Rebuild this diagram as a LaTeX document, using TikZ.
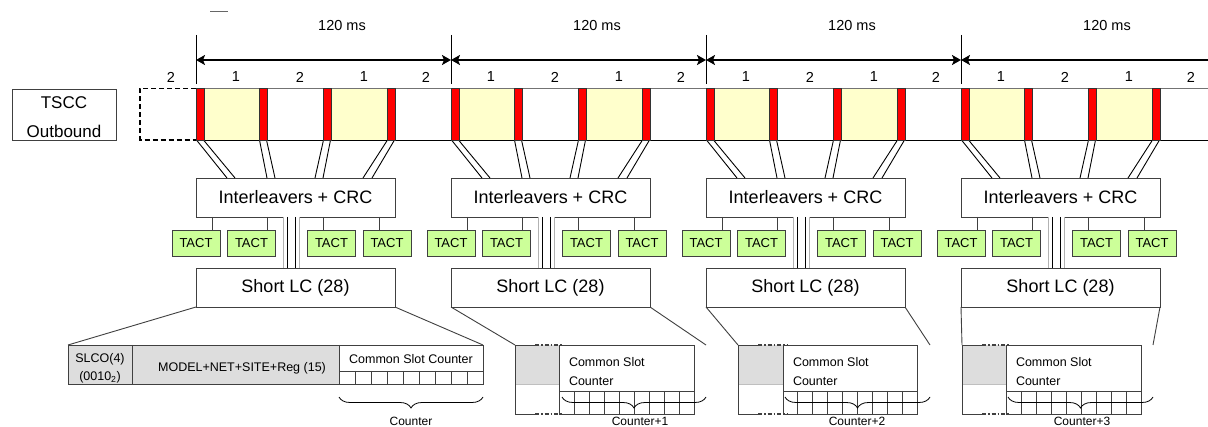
\documentclass[tikz,border=0pt]{standalone}
\usepackage{fontspec}
\setmainfont{Liberation Sans}
\usetikzlibrary{arrows.meta,decorations.pathreplacing,calc}
\definecolor{cellyellow}{HTML}{FFFFCC}
\definecolor{tactgreen}{HTML}{CCFF99}
\definecolor{fieldgray}{HTML}{DDDDDD}
\definecolor{barred}{HTML}{FF0000}
\definecolor{edge}{HTML}{404040}
\begin{document}
\begin{tikzpicture}[x=1pt,y=-1pt,
  every node/.style={inner sep=0pt, outer sep=0pt},
  bigbox/.style={draw=edge, fill=white, line width=0.9pt, minimum width=199pt, minimum height=39pt, font=\fontsize{18}{20}\selectfont},
  tactbox/.style={draw=edge, fill=tactgreen, line width=0.9pt, minimum width=48pt, minimum height=26pt, font=\fontsize{13}{14}\selectfont},
  redbar/.style={fill=barred, draw=black!80, line width=0.8pt},
  striplines/.style={draw=black, line width=0.9pt},
  tline/.style={draw=edge, line width=0.9pt},
  fld/.style={draw=edge, line width=0.9pt},
  fieldtext/.style={font=\fontsize{12.5}{14}\selectfont},
  cnttext/.style={font=\fontsize{12}{13}\selectfont},
  lbl/.style={font=\fontsize{14.5}{16}\selectfont},
  spanarrow/.style={line width=2pt},
  tipA/.tip={Stealth[length=9pt,width=10pt,inset=2pt]},
  bracedown/.style={decorate, decoration={brace, mirror, amplitude=11pt}, draw=black, line width=0.8pt},
]
\fill[white] (0,0) rectangle (1208,427);
\useasboundingbox (0,0) rectangle (1208,427);

% small top dash
\draw[black!60, line width=1pt] (210,12) -- (228,12);

% TSCC box
\node[draw=edge, line width=0.9pt, minimum width=104pt, minimum height=51pt] (tscc) at (64,114.5) {};
\node[font=\fontsize{17}{20}\selectfont] (tsccA) at (64,103) {TSCC};
\node[font=\fontsize{17}{20}\selectfont] (tsccB) at (64,131) {Outbound};

% dashed previous slot
\draw[line width=1.3pt, dash pattern=on 5pt off 3pt] (196,88.5) -- (140,88.5) -- (140,140) -- (196,140);
\node[lbl] (n0) at (171,77) {2};

% span arrows
\draw[spanarrow, tipA-tipA] (196,60) -- (451,60);
\draw[spanarrow, tipA-tipA] (451,60) -- (706,60);
\draw[spanarrow, tipA-tipA] (706,60) -- (961,60);
\draw[spanarrow, tipA-] (961,60) -- (1212,60);

\foreach \i in {0,1,2,3}{
  \pgfmathsetmacro\x{196+255*\i}
  % cells
  \fill[cellyellow] (\x+8,89) rectangle (\x+63,140);
  \fill[cellyellow] (\x+135,89) rectangle (\x+191,140);
  % tick
  \draw[line width=0.9pt] (\x,35) -- (\x,84);
  % labels
  \node[lbl] (ms\i) at (\x+146,26) {120 ms};
  \node[lbl] (na\i) at (\x+40,77) {1};
  \node[lbl] (nb\i) at (\x+104,77) {2};
  \node[lbl] (nc\i) at (\x+168,77) {1};
  \node[lbl] (nd\i) at (\x+230,77) {2};
  % boxes
  \node[bigbox] (il\i) at (\x+99.5,197.5) {Interleavers + CRC};
  \node[bigbox] (slc\i) at (\x+99.5,287.5) {Short LC (28)};
  \node[tactbox] (ta\i) at (\x,243) {TACT};
  \node[tactbox] (tb\i) at (\x+55.5,243) {TACT};
  \node[tactbox] (tc\i) at (\x+135.5,243) {TACT};
  \node[tactbox] (td\i) at (\x+191,243) {TACT};
  % TACT connectors
  \coordinate (ca\i) at ($(il\i.south west)+(16,0)$);
  \coordinate (cb\i) at ($(il\i.south west)+(71,0)$);
  \coordinate (cc\i) at ($(il\i.south west)+(127,0)$);
  \coordinate (cd\i) at ($(il\i.south west)+(183,0)$);
  \draw[tline] (ca\i) -- (ca\i |- ta\i.north);
  \draw[tline] (cb\i) -- (cb\i |- tb\i.north);
  \draw[tline] (cc\i) -- (cc\i |- tc\i.north);
  \draw[tline] (cd\i) -- (cd\i |- td\i.north);
  % strips from TSCC to interleavers
  \draw[striplines] (\x+0.5,140) -- ($(il\i.north west)+(31,0)$);
  \draw[striplines] (\x+7.5,140) -- ($(il\i.north west)+(39,0)$);
  \draw[striplines] (\x+63.5,140) -- ($(il\i.north west)+(71,0)$);
  \draw[striplines] (\x+70.5,140) -- ($(il\i.north west)+(79,0)$);
  \draw[striplines] (\x+127.5,140) -- ($(il\i.north west)+(119,0)$);
  \draw[striplines] (\x+134.5,140) -- ($(il\i.north west)+(127,0)$);
  \draw[striplines] (\x+191.5,140) -- ($(il\i.north west)+(167,0)$);
  \draw[striplines] (\x+198.5,140) -- ($(il\i.north west)+(176,0)$);
  % strip between interleavers and short LC
  \coordinate (ma\i) at ($(il\i.south west)+(87,0)$);
  \coordinate (mb\i) at ($(il\i.south west)+(91,0)$);
  \coordinate (mc\i) at ($(il\i.south west)+(99,0)$);
  \coordinate (md\i) at ($(il\i.south west)+(103,0)$);
  \fill[white] (ma\i) rectangle (md\i |- slc\i.north);
  \draw[black!30, line width=0.9pt] (ma\i) -- (ma\i |- slc\i.north);
  \draw[black!30, line width=0.9pt] (md\i) -- (md\i |- slc\i.north);
  \draw[black, line width=0.9pt] (mb\i) -- (mb\i |- slc\i.north);
  \draw[black, line width=0.9pt] (mc\i) -- (mc\i |- slc\i.north);
}

% TSCC row lines
\draw[black!55, line width=0.9pt] (196,88.5) -- (1208,88.5);
\draw[black, line width=0.9pt] (196,140) -- (1208,140);
\foreach \i in {0,1,2,3}{
  \pgfmathsetmacro\x{196+255*\i}
  \foreach \o in {0,63,127,191} \draw[redbar] (\x+\o,88.5) rectangle (\x+\o+8,140);
}

% field box 1
\fill[fieldgray] (68,345) rectangle (339,384);
\draw[fld] (68,345) rectangle (483,384);
\draw[fld] (132,345) -- (132,384);
\draw[fld] (339,345) -- (339,384);
\draw[fld] (339,371) -- (483,371);
\foreach \k in {1,...,8} \draw[fld] (339+16*\k,371) -- (339+16*\k,384);
\node[fieldtext] (slco) at (100,359) {SLCO(4)};
\node[fieldtext] (slcob) at (100,377) {(0010\textsubscript{2})};
\node[fieldtext] (model) at (242,368) {MODEL+NET+SITE+Reg (15)};
\node[fieldtext] (csc0) at (411,359) {Common Slot Counter};
\draw[fld] (slc0.south west) -- (68,345);
\draw[fld] (slc0.south east) -- (483,345);
\draw[bracedown] (339,397) -- (483,397);
\node[cnttext] (cnt0) at (411,421) {Counter};

% field boxes 2-4
\foreach \i/\L/\S/\R/\F/\B/\E/\C/\t in {1/515/559/694/706/562/706/640/Counter+1, 2/738/783/917/930/785/930/857/Counter+2, 3/962/1006/1141/1153/1008/1153/1082/Counter+3}{
  \fill[fieldgray] (\L,345) rectangle (\S,384);
  \draw[black!25, line width=0.8pt] (\L,384) -- (\S,384);
  \draw[fld] (\L+20,345) -- (\L,345) -- (\L,414) -- (\L+20,414);
  \draw[fld, line width=1.2pt, dash pattern=on 4pt off 2pt on 1.5pt off 2pt] (\L+20,345) -- (\S+4,345);
  \draw[fld, line width=1.2pt, dash pattern=on 4pt off 2pt on 1.5pt off 2pt] (\L+20,414) -- (\S+4,414);
  \draw[fld] (\S,345) rectangle (\R,414);
  \draw[fld] (\S,391) -- (\R,391);
  \pgfmathsetmacro\w{(\R-\S)/9}
  \foreach \k in {1,...,8} \draw[fld] (\S+\w*\k,391) -- (\S+\w*\k,414);
  \node[fieldtext, anchor=west] (cs\i) at (\S+10,362) {Common Slot};
  \node[fieldtext, anchor=west] (ct\i) at (\S+10,381) {Counter};
  \draw[fld] (slc\i.south west) -- (\L,345);
  \draw[fld] (slc\i.south east) -- (\F,345);
  \draw[bracedown] (\B,397) -- (\E,397);
  \node[cnttext] (cnt\i) at (\C,421) {\t};
}
\end{tikzpicture}
\end{document}
